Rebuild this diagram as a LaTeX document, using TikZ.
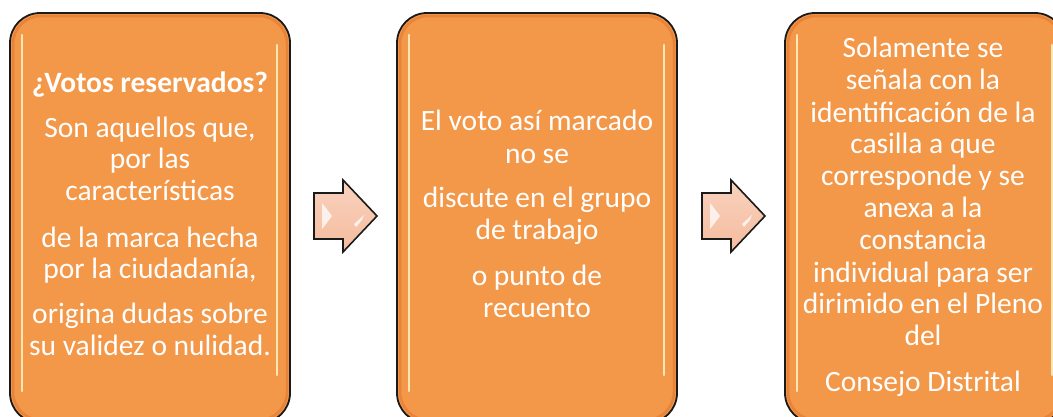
\documentclass[tikz,border=0pt]{standalone}
\usepackage{fontspec}
\setmainfont{Carlito}
\definecolor{boxfill}{HTML}{F39748}
\definecolor{boxinner}{HTML}{E8833A}
\definecolor{boxedge}{HTML}{1A1A1A}
\definecolor{arrowtop}{HTML}{F9D2BE}
\definecolor{arrowbot}{HTML}{F4BC9E}
\definecolor{hilite}{HTML}{FFF4C8}
\begin{document}
\begin{tikzpicture}[x=1pt,y=-1pt,
  card/.style={draw=boxedge, line width=1.8pt, fill=boxfill, rounded corners=30pt},
  cardrim/.style={draw=boxinner, line width=2.5pt, rounded corners=28pt},
  txt/.style={text=white, font=\fontsize{29.5}{34}\selectfont, anchor=base, inner sep=0pt},
  gloss/.style={draw=hilite, line width=2.6pt, line cap=round, opacity=0.85},
  barrow/.style={draw=boxedge, line width=1.6pt, top color=arrowtop, bottom color=arrowbot, line join=miter},
  shine/.style={fill=white, opacity=0.75}]
\useasboundingbox (0,0) rectangle (1053,416);
\clip (0,0) rectangle (1053,416);
\fill[white] (0,0) rectangle (1053,416);
% cards
\foreach \x/\n in {10/c1,397/c2,785/c3}{
  \coordinate (\n) at (\x,13);
  \draw[card] (\n) rectangle ++(280,410);
  \draw[cardrim] ([shift={(3,3)}]\n) rectangle ++(274,404);
  \draw[gloss] ([shift={(12,22)}]\n) -- ([shift={(12,378)}]\n);
  \draw[gloss] ([shift={(267,32)}]\n) -- ([shift={(267,362)}]\n);
}
% block arrows
\foreach \dx/\n in {0/ar1,388/ar2}{
  \coordinate (\n) at (314+\dx,216);
  \draw[barrow] ([shift={(0,-23)}]\n) -- ([shift={(29,-23)}]\n) -- ([shift={(29,-36)}]\n)
    -- ([shift={(63,0)}]\n) -- ([shift={(29,36)}]\n) -- ([shift={(29,23)}]\n)
    -- ([shift={(0,23)}]\n) -- cycle;
  \fill[shine] ([shift={(8,-13)}]\n) -- ([shift={(12,-8)}]\n) -- ([shift={(18,0)}]\n)
    -- ([shift={(12,8)}]\n) -- ([shift={(8,13)}]\n) -- cycle;
  \fill[shine] ([shift={(40,8)}]\n) -- ([shift={(50,-1)}]\n) -- ([shift={(48,4)}]\n)
    -- ([shift={(42,11)}]\n) -- cycle;
}
% texts of card 1
\foreach \t/\y [count=\i] in {{\bfseries ¿Votos reservados?}/92, {Son aquellos que,}/137,
  {por las}/168, {características}/200, {de la marca hecha}/247,
  {por la ciudadanía,}/278, {origina dudas sobre}/323, {su validez o nulidad.}/355}
  \node[txt] (ta\i) at (150,\y) {\t};
% texts of card 2
\foreach \t/\y [count=\i] in {{El voto así marcado}/130, {no se}/163,
  {discute en el grupo}/207, {de trabajo}/239, {o punto de}/285, {recuento}/317}
  \node[txt] (tb\i) at (537,\y) {\t};
% texts of card 3
\foreach \t/\y [count=\i] in {{Solamente se}/57, {señala con la}/89,
  {identificación de la}/122, {casilla a que}/153, {corresponde y se}/185,
  {anexa a la}/217, {constancia}/249, {individual para ser}/282,
  {dirimido en el Pleno}/313, {del}/345, {Consejo Distrital}/391}
  \node[txt] (tc\i) at (923,\y) {\t};
\end{tikzpicture}
\end{document}
